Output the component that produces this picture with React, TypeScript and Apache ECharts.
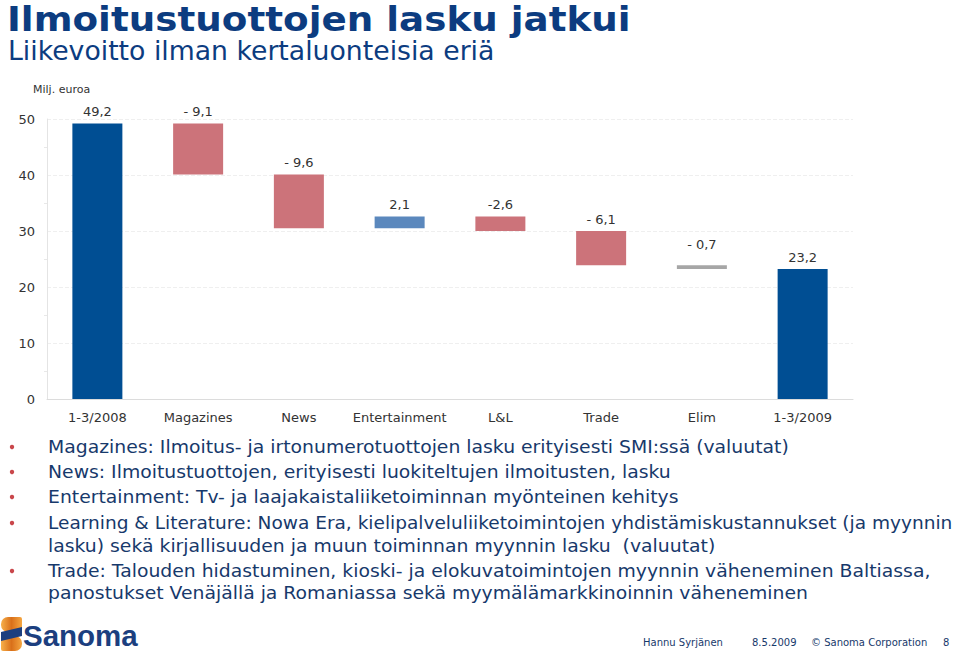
import React, { useEffect, useRef } from "react";
import * as echarts from "echarts";

const categories = ["1-3/2008", "Magazines", "News", "Entertainment", "L&L", "Trade", "Elim", "1-3/2009"];
const changes = [49.2, -9.1, -9.6, 2.1, -2.6, -6.1, -0.7, 23.2];
const kinds = ["total", "neg", "neg", "pos", "neg", "neg", "elim", "total"];
const valueLabels = ["49,2", "- 9,1", "- 9,6", "2,1", "-2,6", "- 6,1", "- 0,7", "23,2"];
const yMin = 0;
const yMax = 50;
const yInterval = 10;

const titleText = "Ilmoitustuottojen lasku jatkui";
const subtitleText = "Liikevoitto ilman kertaluonteisia eriä";
const unitText = "Milj. euroa";
const bulletLines = [
  { bullet: true, text: "Magazines: Ilmoitus- ja irtonumerotuottojen lasku erityisesti SMI:ssä (valuutat)" },
  { bullet: true, text: "News: Ilmoitustuottojen, erityisesti luokiteltujen ilmoitusten, lasku" },
  { bullet: true, text: "Entertainment: Tv- ja laajakaistaliiketoiminnan myönteinen kehitys" },
  { bullet: true, text: "Learning & Literature: Nowa Era, kielipalveluliiketoimintojen yhdistämiskustannukset (ja myynnin" },
  { bullet: false, text: "lasku) sekä kirjallisuuden ja muun toiminnan myynnin lasku  (valuutat)" },
  { bullet: true, text: "Trade: Talouden hidastuminen, kioski- ja elokuvatoimintojen myynnin väheneminen Baltiassa," },
  { bullet: false, text: "panostukset Venäjällä ja Romaniassa sekä myymälämarkkinoinnin väheneminen" },
];
const footerTexts = [
  { text: "Hannu Syrjänen", x: 643 },
  { text: "8.5.2009", x: 752 },
  { text: "© Sanoma Corporation", x: 811 },
  { text: "8", x: 943 },
];
const logoText = "Sanoma";

const colors: Record<string, string> = {
  total: "#004E93",
  neg: "#CC737A",
  pos: "#5B88BD",
  elim: "#A6A6A6",
};

export default function App() {
  const ref = useRef<HTMLDivElement>(null);

  useEffect(() => {
    if (!ref.current) return;
    const chart = echarts.init(ref.current, null, { renderer: "svg" });

    const bases: number[] = [];
    const heights: number[] = [];
    let level = 0;
    changes.forEach((d, i) => {
      if (kinds[i] === "total") {
        bases.push(0);
        heights.push(d);
        level = d;
      } else if (d < 0) {
        bases.push(+(level + d).toFixed(2));
        heights.push(-d);
        level = level + d;
      } else {
        bases.push(+level.toFixed(2));
        heights.push(d);
        level = level + d;
      }
    });

    const textColor = "#17396B";
    const titleColor = "#0C3C80";
    const font = "DejaVu Sans";

    const graphics: any[] = [
      {
        type: "text",
        x: 7,
        y: 19.5,
        scaleX: 1.13,
        style: {
          text: titleText,
          x: 0,
          y: 0,
          fill: titleColor,
          fontSize: 33,
          fontWeight: "bold",
          fontFamily: font,
          verticalAlign: "middle",
          textVerticalAlign: "middle",
        },
      },
      {
        type: "text",
        x: 8,
        y: 50.5,
        style: {
          text: subtitleText,
          x: 0,
          y: 0,
          fill: titleColor,
          fontSize: 26.7,
          fontFamily: font,
          verticalAlign: "middle",
          textVerticalAlign: "middle",
        },
      },
      {
        type: "text",
        left: 33,
        top: 84,
        style: { text: unitText, fill: "#333", fontSize: 11, fontFamily: font },
      },
    ];

    const lineYs = [447, 472, 497, 523, 546, 571, 593];
    bulletLines.forEach((l, i) => {
      if (l.bullet) {
        graphics.push({
          type: "circle",
          shape: { cx: 12, cy: lineYs[i], r: 2.2 },
          style: { fill: "#C9474B" },
        });
      }
      graphics.push({
        type: "text",
        x: 48,
        y: lineYs[i],
        scaleX: i === 3 ? 1.06 : 1.075,
        style: {
          text: l.text,
          x: 0,
          y: 0,
          fill: textColor,
          fontSize: 17.5,
          fontFamily: font,
          verticalAlign: "middle",
          textVerticalAlign: "middle",
        },
      });
    });

    footerTexts.forEach((f) => {
      graphics.push({
        type: "text",
        x: f.x,
        y: 642,
        style: {
          text: f.text,
          x: 0,
          y: 0,
          fill: textColor,
          fontSize: 10,
          fontFamily: font,
          verticalAlign: "middle",
          textVerticalAlign: "middle",
        },
      });
    });

    const orange = new echarts.graphic.LinearGradient(0, 0, 1, 0, [
      { offset: 0, color: "#F7B04A" },
      { offset: 0.5, color: "#D9701A" },
      { offset: 1, color: "#F5A640" },
    ]);
    graphics.push(
      { type: "rect", shape: { x: 1, y: 617, width: 21, height: 15, r: [7, 2, 0, 7] }, style: { fill: orange } },
      { type: "rect", shape: { x: 1, y: 636, width: 21, height: 15, r: [0, 7, 7, 2] }, style: { fill: orange } },
      {
        type: "polygon",
        shape: { points: [[1, 632], [22, 627], [22, 636], [1, 641]] },
        style: { fill: "#1C3F7F" },
      },
      {
        type: "text",
        x: 23,
        y: 635,
        style: {
          text: logoText,
          x: 0,
          y: 0,
          fill: "#1C3F7F",
          fontSize: 29.5,
          fontWeight: "bold",
          fontFamily: "Liberation Sans",
          verticalAlign: "middle",
          textVerticalAlign: "middle",
        },
      }
    );

    chart.setOption({
      animation: false,
      textStyle: { fontFamily: font },
      grid: { left: 47, right: 106, top: 119, bottom: 256, containLabel: false },
      xAxis: {
        type: "category",
        data: categories,
        axisLine: { show: true, lineStyle: { color: "#DCDCDC" } },
        axisTick: { show: false },
        axisLabel: { color: "#333", fontSize: 13, margin: 12, interval: 0, fontFamily: font },
      },
      yAxis: {
        type: "value",
        min: yMin,
        max: yMax,
        interval: yInterval,
        axisLine: { show: true, lineStyle: { color: "#E4E4E4" } },
        axisTick: { show: false },
        minorTick: { show: true, splitNumber: 2, length: 3, lineStyle: { color: "#E8E8E8" } },
        splitLine: { show: true, lineStyle: { color: "#EFEFEF", type: "dashed" } },
        axisLabel: { color: "#333", fontSize: 13, margin: 12, fontFamily: font },
      },
      series: [
        {
          type: "bar",
          stack: "w",
          data: bases,
          itemStyle: { color: "transparent" },
          silent: true,
          barWidth: 50,
        },
        {
          type: "bar",
          stack: "w",
          barWidth: 50,
          data: heights.map((h, i) => ({
            value: h,
            itemStyle: { color: colors[kinds[i]] },
            label: { distance: kinds[i] === "elim" ? 14 : 5 },
          })),
          label: {
            show: true,
            position: "top",
            color: "#333",
            fontSize: 13,
            fontFamily: font,
            formatter: (p: any) => valueLabels[p.dataIndex],
          },
        },
      ],
      graphic: graphics,
    });

    return () => chart.dispose();
  }, []);

  return (
    <div
      ref={ref}
      style={{ position: "fixed", left: 0, top: 0, width: 959, height: 655, background: "#fff" }}
    />
  );
}
